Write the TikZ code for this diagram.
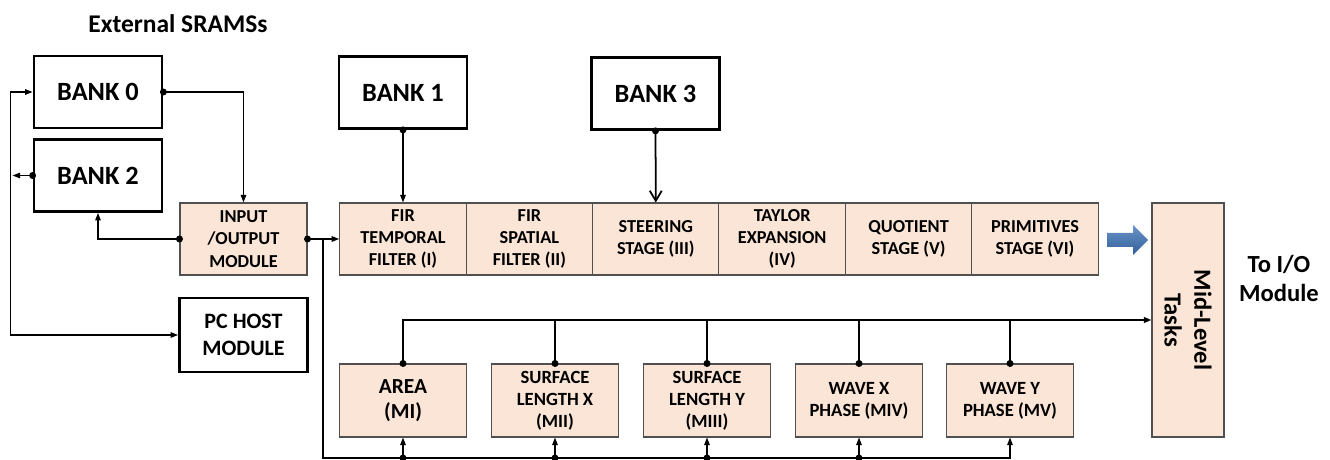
\documentclass[tikz,border=0pt]{standalone}
\usepackage{fontspec}
\setmainfont{Carlito}
\usetikzlibrary{arrows.meta,positioning}
\definecolor{peach}{HTML}{FBE5D6}
\definecolor{edgegray}{HTML}{505050}
\definecolor{flowblue}{HTML}{3A70B6}
\tikzset{
  >={Triangle[length=1.5mm,width=1.1mm]},
  % speicher
  bank/.style={draw=black,line width=1.6pt,fill=white,minimum width=25.6mm,
               minimum height=14.4mm,inner sep=1pt,align=center,
               font=\fontsize{15}{18}\selectfont\bfseries},
  hostbox/.style={bank,font=\fontsize{12.5}{15.5}\selectfont\bfseries},
  % stufen
  stage/.style={draw=edgegray,line width=0.6pt,fill=peach,minimum width=25.3mm,
                minimum height=14.4mm,inner sep=1pt,align=center,
                font=\fontsize{10.4}{12.6}\selectfont\bfseries},
  task/.style={stage,minimum height=14.6mm,font=\fontsize{10.6}{12.6}\selectfont\bfseries},
  midbox/.style={stage,rotate=-90,minimum width=46.8mm,minimum height=14.4mm,
                 font=\fontsize{14}{17}\selectfont\bfseries},
  caption/.style={align=center,inner sep=0pt,font=\fontsize{14.5}{17}\selectfont\bfseries},
  wire/.style={draw=black,line width=0.7pt},
  bus/.style={draw=black,line width=1.1pt},
  dot/.style={fill=black},
}

\begin{document}
\begin{tikzpicture}[x=0.2mm,y=-0.2mm]
\useasboundingbox (0,0) rectangle (1330,460);
  \node[caption] (ext) at (178,24) {External SRAMSs};
  \node[bank] (bank0) at (98,92) {BANK 0};
  \node[bank] (bank2) at (98,175.5) {BANK 2};
  \node[bank] (bank1) at (403,92.5) {BANK 1};
  \node[bank] (bank3) at (655.5,93.5) {BANK 3};
  \node[stage,minimum width=25.4mm] (io) at (243.5,239) {INPUT\\/OUTPUT\\MODULE};
  \node[hostbox,minimum height=14.8mm] (host) at (243.5,335) {PC HOST\\MODULE};
  % pipeline
  \node[stage] (fir1) at (403,239) {FIR\\TEMPORAL\\FILTER (I)};
  \node[stage] (fir2) at (529.4,239) {FIR\\SPATIAL\\FILTER (II)};
  \node[stage] (steer) at (655.8,239) {STEERING\\STAGE (III)};
  \node[stage] (taylor) at (782.2,239) {TAYLOR\\EXPANSION\\(IV)};
  \node[stage] (quot) at (908.6,239) {QUOTIENT\\STAGE (V)};
  \node[stage] (prim) at (1035,239) {PRIMITIVES\\STAGE (VI)};
  \node[midbox] (mid) at (1188,320) {Mid-Level\\Tasks};
  \node[caption,font=\fontsize{14}{16.5}\selectfont\bfseries] (toio) at (1279,278) {To I/O\\Module};
  % mid-level
  \node[task,font=\fontsize{12.2}{14.6}\selectfont\bfseries] (area) at (403,400.5) {AREA\\(MI)};
  \node[task] (slx) at (555,400.5) {SURFACE\\LENGTH X\\(MII)};
  \node[task] (sly) at (707,400.5) {SURFACE\\LENGTH Y\\(MIII)};
  \node[task] (wavx) at (859,400.5) {WAVE X\\PHASE (MIV)};
  \node[task] (wavy) at (1010,400.5) {WAVE Y\\PHASE (MV)};
  \coordinate (tap) at (323,239);
  \coordinate (lowbus) at (323,458);

  \shade[top color=flowblue!75!white,bottom color=flowblue!85!black]
    (1107,233) -- (1133,233) -- (1133,225) -- (1148,240)
    -- (1133,255) -- (1133,247) -- (1107,247) -- cycle;

  \draw[wire,<->] (bank0.west) -- ++(-22,0) |- (host.west);
  \draw[wire,->] (bank2.west) -- ++(-20,0);
  \draw[wire,->] (bank0.east) -| (io.north);
  \draw[wire,->] (io.west) -| (bank2.south);
  \draw[wire,->] (io.east) -- (fir1.west);
  \draw[wire,->] (bank1.south) -- (fir1.north);
  \draw[wire,line width=1pt,-{Straight Barb[length=2mm,width=2.4mm]}] (bank3.south) -- (steer.north);
  \draw[wire,->] (tap) |- (wavy.south |- lowbus) -- (wavy.south);
  \draw[bus,->] (area.north) |- (mid.south);
  \foreach \m in {slx,sly,wavx,wavy}
    \draw[wire] (\m.north) -- (\m.north |- mid.south);
  \foreach \m in {area,slx,sly,wavx} {
    \draw[wire,->] (\m.south |- lowbus) -- (\m.south);
    \fill[dot] (\m.south |- lowbus) circle (0.7mm);
  }
  \foreach \p in {bank0.east,bank2.west,io.west,io.east,bank1.south,bank3.south,
                  area.north,slx.north,sly.north,wavx.north,wavy.north}
    \fill[dot] (\p) circle (0.7mm);
\end{tikzpicture}
\end{document}
